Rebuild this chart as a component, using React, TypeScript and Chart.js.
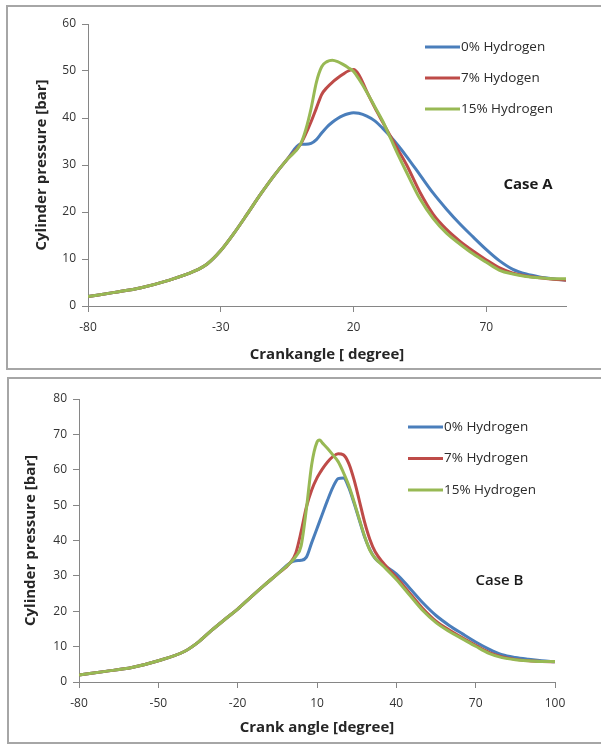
import React, { useEffect, useRef } from "react";
import { Chart, registerables } from "chart.js";

Chart.register(...registerables);

const FONT = "'Open Sans', Lato, 'DejaVu Sans', sans-serif";

// ---------- Case A ----------
const A_ANGLES = [-80, -70, -60, -50, -40, -35, -30, -25, -20, -15, -10, -5, 0, 2, 4, 6, 8, 10, 12, 14, 16, 18, 20, 22, 25, 28, 31, 34, 37, 40, 45, 50, 55, 60, 65, 70, 75, 80, 85, 90, 95, 100];
const A_COMMON = [2.0, 2.9, 3.9, 5.4, 7.4, 9.0, 11.8, 15.5, 19.6, 23.8, 27.7, 31.2, 34.4];
const A_H0 = [...A_COMMON, 34.4, 34.6, 35.4, 36.8, 38.1, 39.1, 39.9, 40.5, 40.9, 41.1, 41.0, 40.4, 39.4, 37.8, 36.0, 34.0, 31.8, 27.9, 24.0, 20.6, 17.5, 14.7, 12.0, 9.6, 7.8, 6.8, 6.2, 5.8, 5.5];
const A_H7 = [...A_COMMON, 36.6, 39.2, 42.1, 45.0, 46.5, 47.6, 48.5, 49.3, 50.0, 50.3, 49.2, 45.6, 42.2, 39.1, 36.0, 33.0, 30.0, 24.2, 19.5, 16.3, 13.8, 11.7, 9.8, 8.1, 7.0, 6.4, 6.0, 5.7, 5.5];
const A_H15 = [...A_COMMON, 37.5, 42.0, 47.6, 50.9, 52.0, 52.3, 52.0, 51.4, 50.7, 49.9, 48.3, 45.5, 42.4, 39.3, 35.6, 31.9, 28.4, 22.8, 18.6, 15.5, 13.2, 11.1, 9.3, 7.6, 6.8, 6.3, 6.0, 5.8, 5.8];
const A_LABELS = ["0% Hydrogen", "7% Hydogen", "15% Hydrogen"];
const A_X_TICKS = [-80, -30, 20, 70];
const A_Y_MAX = 60;
const A_X_TITLE = "Crankangle [ degree]";
const A_CASE = "Case A";

// ---------- Case B ----------
const B_ANGLES = [-80, -70, -60, -50, -40, -35, -30, -25, -20, -15, -10, -5, 0, 2, 4, 6, 8, 10, 11, 12, 14, 16, 18, 20, 22, 24, 26, 28, 30, 32, 35, 40, 45, 50, 55, 60, 65, 70, 75, 80, 85, 90, 95, 100];
const B_COMMON = [2.0, 3.0, 4.1, 6.0, 8.7, 11.2, 14.5, 17.6, 20.6, 24.0, 27.3, 30.5, 33.8];
const B_H0 = [...B_COMMON, 34.3, 34.4, 35.3, 39.4, 43.4, 45.4, 47.4, 51.4, 55.0, 57.5, 57.7, 55.0, 50.6, 45.8, 41.0, 37.4, 34.9, 33.2, 30.6, 26.6, 22.4, 18.8, 16.0, 13.6, 11.3, 9.3, 7.7, 6.9, 6.4, 6.0, 5.7];
const B_H7 = [...B_COMMON, 36.5, 42.5, 49.5, 54.3, 57.7, 59.0, 60.2, 62.2, 63.7, 64.5, 64.2, 61.8, 57.2, 51.3, 45.2, 40.3, 36.8, 33.7, 29.6, 25.2, 20.8, 17.2, 14.7, 12.5, 10.4, 8.4, 7.1, 6.4, 6.0, 5.8, 5.7];
const B_H15 = [...B_COMMON, 35.5, 38.5, 49.0, 61.5, 67.8, 68.4, 67.6, 66.0, 64.2, 62.3, 59.2, 55.6, 51.0, 46.0, 41.2, 37.2, 35.0, 32.8, 29.0, 24.6, 20.2, 16.8, 14.3, 12.2, 10.1, 8.1, 6.9, 6.3, 6.0, 5.8, 5.8];
const B_LABELS = ["0% Hydrogen", "7% Hydrogen", "15% Hydrogen"];
const B_X_TICKS = [-80, -50, -20, 10, 40, 70, 100];
const B_Y_MAX = 80;
const B_X_TITLE = "Crank angle [degree]";
const B_CASE = "Case B";

const Y_TITLE = "Cylinder pressure [bar]";
const COLORS = ["#4A7EBB", "#BE4B48", "#98B954"];

const overlayPlugin = {
  id: "overlay",
  afterDatasetsDraw(chart: any, _args: any, opts: any) {
    const { ctx, chartArea } = chart;
    ctx.save();
    chart.data.datasets.forEach((ds: any, i: number) => {
      const y = chartArea.top + opts.legendTop + i * opts.legendGap;
      const x0 = chartArea.right - opts.legendRight;
      ctx.strokeStyle = ds.borderColor;
      ctx.lineWidth = 3;
      ctx.beginPath();
      ctx.moveTo(x0, y);
      ctx.lineTo(x0 + opts.lineLen, y);
      ctx.stroke();
      ctx.fillStyle = "#2b2b2b";
      ctx.font = `13.5px ${FONT}`;
      ctx.textAlign = "left";
      ctx.textBaseline = "middle";
      ctx.fillText(ds.label, x0 + opts.lineLen + 1, y);
    });
    const xs = chart.scales.x;
    const ys = chart.scales.y;
    ctx.font = opts.caseFont;
    ctx.fillStyle = "#1a1a1a";
    ctx.textAlign = "center";
    ctx.textBaseline = "middle";
    ctx.fillText(opts.caseText, xs.getPixelForValue(opts.caseX), ys.getPixelForValue(opts.caseY));
    ctx.restore();
  },
};

type Cfg = {
  angles: number[];
  series: number[][];
  labels: string[];
  xTicks: number[];
  yMax: number;
  xTitle: string;
  caseText: string;
  caseX: number;
  caseY: number;
  caseFont: string;
  box: { left: number; top: number; width: number; height: number };
  pad: { top: number; right: number };
  yWidth: number;
  xHeight: number;
  xTitlePad: number;
  yTitlePad: number;
  legend: { legendTop: number; legendGap: number; legendRight: number; lineLen: number };
};

function PressureChart({ cfg }: { cfg: Cfg }) {
  const ref = useRef<HTMLCanvasElement | null>(null);
  const cw = cfg.box.width - 2;
  const ch = cfg.box.height - 4;
  useEffect(() => {
    if (!ref.current) return;
    const tickFont = { family: FONT, size: 12 };
    const titleFont = { family: FONT, size: 15, weight: "bold" as const };
    const chart = new Chart(ref.current, {
      type: "line",
      data: {
        datasets: cfg.series.map((vals, i) => ({
          label: cfg.labels[i],
          data: cfg.angles.map((a, j) => ({ x: a, y: vals[j] })),
          borderColor: COLORS[i],
          backgroundColor: COLORS[i],
          borderWidth: 3,
          pointRadius: 0,
          fill: false,
          cubicInterpolationMode: "monotone" as const,
          order: 2 - i,
        })),
      },
      options: {
        animation: false,
        responsive: false,
        maintainAspectRatio: false,
        layout: { padding: { top: cfg.pad.top, right: cfg.pad.right, left: 0, bottom: 0 } },
        plugins: {
          legend: { display: false },
          tooltip: { enabled: false },
          overlay: {
            ...cfg.legend,
            caseText: cfg.caseText,
            caseX: cfg.caseX,
            caseY: cfg.caseY,
            caseFont: cfg.caseFont,
          },
        } as any,
        scales: {
          x: {
            type: "linear",
            min: -80,
            max: 100,
            afterBuildTicks: (s: any) => {
              s.ticks = cfg.xTicks.map((v) => ({ value: v }));
            },
            afterFit: (s: any) => {
              s.height = cfg.xHeight;
            },
            grid: { drawOnChartArea: false, tickLength: 6, color: "#868686" },
            border: { color: "#868686", width: 1 },
            ticks: { font: tickFont, color: "#333333", padding: 8, maxRotation: 0, autoSkip: false },
            title: {
              display: true,
              text: cfg.xTitle,
              font: titleFont,
              color: "#262626",
              padding: { top: 0, bottom: cfg.xTitlePad },
            },
          },
          y: {
            type: "linear",
            min: 0,
            max: cfg.yMax,
            afterFit: (s: any) => {
              s.width = cfg.yWidth;
            },
            grid: { drawOnChartArea: false, tickLength: 6, color: "#868686" },
            border: { color: "#868686", width: 1 },
            ticks: { font: tickFont, color: "#333333", padding: 6, stepSize: 10 },
            title: {
              display: true,
              text: Y_TITLE,
              font: titleFont,
              color: "#262626",
              padding: { top: cfg.yTitlePad, bottom: 0 },
            },
          },
        },
      },
      plugins: [overlayPlugin as any],
    });
    return () => chart.destroy();
  }, []);
  return (
    <div
      style={{
        position: "absolute",
        left: cfg.box.left,
        top: cfg.box.top,
        width: cfg.box.width,
        height: cfg.box.height,
        boxSizing: "border-box",
        borderTop: "2px solid #a6a6a6",
        borderLeft: "2px solid #a6a6a6",
        borderBottom: "2px solid #a6a6a6",
        background: "#ffffff",
      }}
    >
      <canvas ref={ref} width={cw} height={ch} style={{ display: "block", width: cw, height: ch }} />
    </div>
  );
}

const CFG_A: Cfg = {
  angles: A_ANGLES,
  series: [A_H0, A_H7, A_H15],
  labels: A_LABELS,
  xTicks: A_X_TICKS,
  yMax: A_Y_MAX,
  xTitle: A_X_TITLE,
  caseText: A_CASE,
  caseX: 85.7,
  caseY: 25.8,
  caseFont: `bold 15px ${FONT}`,
  box: { left: 6, top: 5, width: 595, height: 365 },
  pad: { top: 17, right: 35 },
  yWidth: 80,
  xHeight: 62,
  xTitlePad: 4,
  yTitlePad: 25,
  legend: { legendTop: 23, legendGap: 31, legendRight: 141, lineLen: 35 },
};

const CFG_B: Cfg = {
  angles: B_ANGLES,
  series: [B_H0, B_H7, B_H15],
  labels: B_LABELS,
  xTicks: B_X_TICKS,
  yMax: B_Y_MAX,
  xTitle: B_X_TITLE,
  caseText: B_CASE,
  caseX: 79,
  caseY: 28.5,
  caseFont: `600 15px ${FONT}`,
  box: { left: 7, top: 377, width: 594, height: 367 },
  pad: { top: 20, right: 46 },
  yWidth: 70,
  xHeight: 60,
  xTitlePad: 5,
  yTitlePad: 13,
  legend: { legendTop: 28, legendGap: 31.5, legendRight: 147, lineLen: 35 },
};

export default function App() {
  return (
    <div style={{ position: "absolute", left: 0, top: 0, width: 601, height: 744, overflow: "hidden", background: "#ffffff" }}>
      <PressureChart cfg={CFG_A} />
      <PressureChart cfg={CFG_B} />
    </div>
  );
}
